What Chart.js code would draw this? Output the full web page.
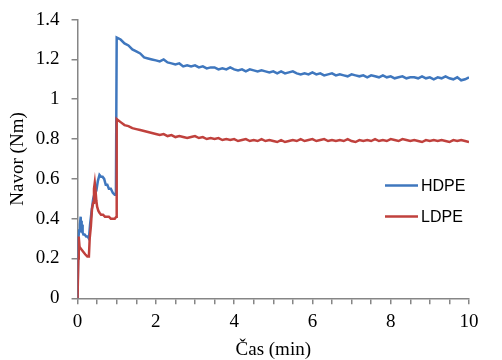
<!DOCTYPE html>
<html>
<head>
<meta charset="utf-8">
<script src="https://cdn.jsdelivr.net/npm/chart.js@4/dist/chart.umd.min.js"></script>
<style>
  html, body { margin: 0; padding: 0; background: #fff; }
  #chart { display: block; }
</style>
</head>
<body>
<canvas id="chart" width="502" height="360"></canvas>
<script>
// start-up phase (0 - 1 min)
var earlyTimeHdpe = [0, 0.02, 0.04, 0.06, 0.08, 0.09, 0.1, 0.11, 0.12, 0.13, 0.15, 0.18, 0.22, 0.26, 0.29,
	0.32, 0.36, 0.40, 0.44, 0.48, 0.52, 0.56, 0.60, 0.64, 0.68, 0.72, 0.76, 0.80, 0.85, 0.90, 0.95, 0.98];
var earlyHdpe = [0, 0.30, 0.34, 0.37, 0.41, 0.35, 0.39, 0.33, 0.37, 0.33, 0.32, 0.32, 0.31, 0.31, 0.30,
	0.37, 0.44, 0.50, 0.53, 0.54, 0.59, 0.62, 0.61, 0.61, 0.60, 0.57, 0.57, 0.55, 0.55, 0.53, 0.52, 0.52];

var earlyTimeLdpe = [0, 0.02, 0.03, 0.05, 0.08, 0.12, 0.16, 0.2, 0.25, 0.29, 0.31, 0.34, 0.37, 0.40, 0.42,
	0.44, 0.46, 0.48, 0.5, 0.53, 0.56, 0.6, 0.65, 0.7, 0.75, 0.8, 0.85, 0.9, 0.95, 0.99];
var earlyLdpe = [0, 0.20, 0.31, 0.26, 0.25, 0.24, 0.23, 0.22, 0.21, 0.21, 0.30, 0.36, 0.45, 0.48, 0.55,
	0.58, 0.54, 0.49, 0.46, 0.44, 0.43, 0.42, 0.42, 0.41, 0.41, 0.41, 0.40, 0.40, 0.40, 0.41];

// steady phase (1 - 10 min)
var lateTime = [1.0, 1.1, 1.2, 1.3, 1.4, 1.5, 1.6, 1.7, 1.8, 1.9,
	2.0, 2.1, 2.2, 2.3, 2.4, 2.5, 2.6, 2.7, 2.8, 2.9,
	3.0, 3.1, 3.2, 3.3, 3.4, 3.5, 3.6, 3.7, 3.8, 3.9,
	4.0, 4.1, 4.2, 4.3, 4.4, 4.5, 4.6, 4.7, 4.8, 4.9,
	5.0, 5.1, 5.2, 5.3, 5.4, 5.5, 5.6, 5.7, 5.8, 5.9,
	6.0, 6.1, 6.2, 6.3, 6.4, 6.5, 6.6, 6.7, 6.8, 6.9,
	7.0, 7.1, 7.2, 7.3, 7.4, 7.5, 7.6, 7.7, 7.8, 7.9,
	8.0, 8.1, 8.2, 8.3, 8.4, 8.5, 8.6, 8.7, 8.8, 8.9,
	9.0, 9.1, 9.2, 9.3, 9.4, 9.5, 9.6, 9.7, 9.8, 9.9, 10.0];
var lateHdpe = [1.31, 1.30, 1.28, 1.27, 1.25, 1.24, 1.23, 1.21, 1.205, 1.20,
	1.195, 1.19, 1.20, 1.185, 1.18, 1.175, 1.18, 1.165, 1.17, 1.165,
	1.17, 1.16, 1.165, 1.155, 1.16, 1.16, 1.15, 1.155, 1.15, 1.16,
	1.15, 1.145, 1.15, 1.14, 1.15, 1.145, 1.14, 1.145, 1.14, 1.135,
	1.14, 1.13, 1.14, 1.13, 1.135, 1.14, 1.13, 1.125, 1.13, 1.125,
	1.135, 1.125, 1.13, 1.12, 1.125, 1.13, 1.12, 1.125, 1.12, 1.115,
	1.125, 1.12, 1.115, 1.12, 1.11, 1.12, 1.115, 1.11, 1.12, 1.11,
	1.115, 1.105, 1.11, 1.115, 1.105, 1.11, 1.11, 1.105, 1.115, 1.105,
	1.11, 1.10, 1.11, 1.105, 1.115, 1.105, 1.10, 1.11, 1.095, 1.10, 1.11];
var lateLdpe = [0.90, 0.885, 0.87, 0.865, 0.855, 0.85, 0.845, 0.84, 0.835, 0.83,
	0.825, 0.82, 0.825, 0.815, 0.82, 0.81, 0.815, 0.81, 0.805, 0.81,
	0.815, 0.805, 0.81, 0.80, 0.805, 0.80, 0.805, 0.795, 0.80, 0.795,
	0.80, 0.79, 0.795, 0.80, 0.79, 0.795, 0.79, 0.80, 0.79, 0.795,
	0.79, 0.785, 0.795, 0.785, 0.79, 0.795, 0.79, 0.80, 0.79, 0.795,
	0.80, 0.79, 0.795, 0.80, 0.79, 0.795, 0.79, 0.795, 0.79, 0.80,
	0.79, 0.785, 0.795, 0.79, 0.795, 0.79, 0.80, 0.79, 0.795, 0.79,
	0.80, 0.795, 0.79, 0.80, 0.795, 0.79, 0.795, 0.79, 0.785, 0.795,
	0.79, 0.795, 0.79, 0.795, 0.79, 0.785, 0.795, 0.79, 0.795, 0.79, 0.785];

var seriesNames = ["HDPE", "LDPE"];
var seriesColors = ["#3F77BE", "#C0413D"];
var xTitle = "Čas (min)";
var yTitle = "Navor (Nm)";

function toPoints(times, values) {
	var pts = [];
	for (var i = 0; i < times.length; i++) {
		pts.push({ x: times[i], y: values[i] });
	}
	return pts;
}

var axisGray = "#868686";
var serif = "'Liberation Serif', 'Times New Roman', serif";

/**
 * Legend drawn inside the plot, right side, like the original
 */
var insideLegend = {
	id: "insideLegend",
	afterDraw: function(chart) {
		var ctx = chart.ctx;
		var area = chart.chartArea;
		var x0 = area.right - 84;
		var y0 = area.top + 166;
		ctx.save();
		ctx.font = "16px 'Liberation Sans', Arial, sans-serif";
		ctx.textBaseline = "middle";
		for (var i = 0; i < seriesNames.length; i++) {
			var y = y0 + i * 31;
			ctx.strokeStyle = seriesColors[i];
			ctx.lineWidth = 2.5;
			ctx.beginPath();
			ctx.moveTo(x0, y);
			ctx.lineTo(x0 + 33, y);
			ctx.stroke();
			ctx.fillStyle = "#000";
			ctx.fillText(seriesNames[i], x0 + 36, y + 1);
		}
		ctx.restore();
	}
};

var ctx = document.getElementById("chart").getContext("2d");
var chart = new Chart(ctx, {
	type: "line",
	data: {
		datasets: [{
			label: seriesNames[0],
			data: toPoints(earlyTimeHdpe.concat(lateTime), earlyHdpe.concat(lateHdpe)),
			borderColor: seriesColors[0],
			borderWidth: 2.5,
			pointRadius: 0,
			tension: 0,
			order: 1
		}, {
			label: seriesNames[1],
			data: toPoints(earlyTimeLdpe.concat(lateTime), earlyLdpe.concat(lateLdpe)),
			borderColor: seriesColors[1],
			borderWidth: 2.5,
			pointRadius: 0,
			tension: 0,
			order: 0
		}]
	},
	options: {
		responsive: false,
		animation: false,
		layout: { padding: { left: 7, right: 33, top: 4, bottom: 0 } },
		plugins: {
			legend: { display: false },
			tooltip: { enabled: false }
		},
		scales: {
			x: {
				type: "linear",
				min: 0,
				max: 10,
				border: { color: axisGray, width: 1.5 },
				grid: { drawOnChartArea: false, drawTicks: true, tickLength: 6, color: axisGray, lineWidth: 1.5 },
				ticks: {
					stepSize: 0.5,
					autoSkip: false,
					maxRotation: 0,
					padding: 6,
					color: "#000",
					font: { family: serif, size: 19 },
					callback: function(v) { return v % 2 === 0 ? String(v) : ""; }
				},
				title: { display: true, text: xTitle, color: "#000", font: { family: serif, size: 19, lineHeight: 1.1 }, padding: { top: 0, bottom: 0 } }
			},
			y: {
				min: 0,
				max: 1.4,
				border: { color: axisGray, width: 1.5 },
				grid: { drawOnChartArea: false, drawTicks: true, tickLength: 6, color: axisGray, lineWidth: 1.5 },
				ticks: {
					stepSize: 0.2,
					padding: 12,
					color: "#000",
					font: { family: serif, size: 19, lineHeight: 0.8 },
					callback: function(v) { return String(+v.toFixed(1)); }
				},
				title: { display: true, text: yTitle, color: "#000", font: { family: serif, size: 19 }, padding: { top: 0, bottom: -6 } }
			}
		}
	},
	plugins: [insideLegend]
});
</script>
</body>
</html>
